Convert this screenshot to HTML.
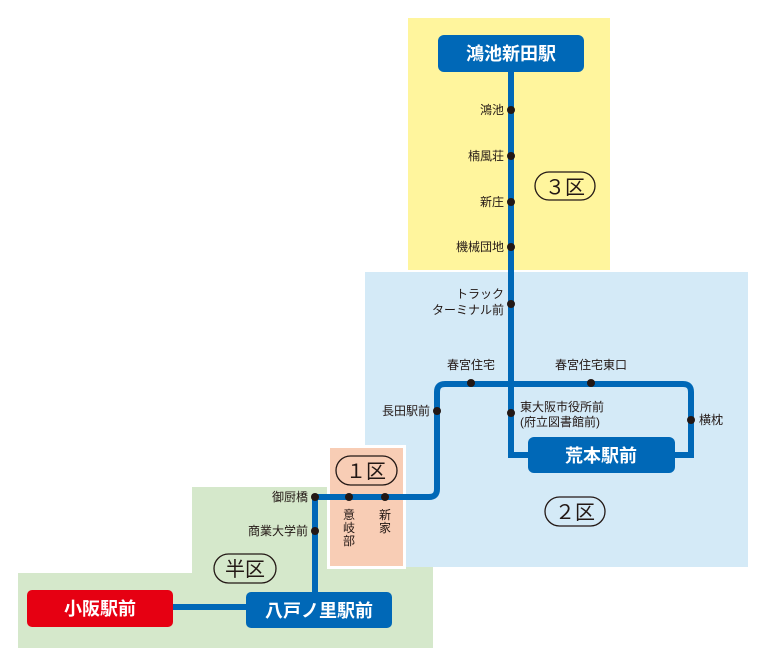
<!DOCTYPE html>
<html><head><meta charset="utf-8"><style>
html,body{margin:0;padding:0;background:#fff;}
svg{display:block;}
text{font-family:"Liberation Sans","Noto Sans CJK JP",sans-serif;fill:#231815;}
.s{font-size:12px;}
.b{font-size:18px;font-weight:bold;fill:#fff;}
.z{font-size:20px;}
</style></head><body>
<svg width="764" height="650" viewBox="0 0 764 650">
<rect x="408" y="18" width="202" height="252" fill="#fff59d"/>
<rect x="192" y="487" width="241" height="161" fill="#d5e8cb"/>
<rect x="18" y="573" width="415" height="75" fill="#d5e8cb"/>
<rect x="365" y="272" width="383" height="295" fill="#d4eaf7"/>
<rect x="327" y="445" width="79" height="124" fill="#fff"/>
<rect x="330" y="448" width="73" height="118" fill="#f8cdb5"/>
<g fill="none" stroke="#0068b7" stroke-width="6">
<path d="M511 70 V455 H530"/>
<path d="M673 455 H691 V392 Q691 384 683 384 H445 Q437 384 437 392 V489 Q437 497 429 497 H315 V600"/>
<path d="M173 607 H248"/>
</g>
<g fill="#231815">
<circle cx="511" cy="110" r="4"/><circle cx="511" cy="156" r="4"/><circle cx="511" cy="202" r="4"/><circle cx="511" cy="247" r="4"/><circle cx="511" cy="304" r="4"/><circle cx="511" cy="413" r="4"/><circle cx="471" cy="383" r="4"/><circle cx="591" cy="383" r="4"/><circle cx="691" cy="420" r="4"/><circle cx="437" cy="411" r="4"/><circle cx="385" cy="497" r="4"/><circle cx="349" cy="497" r="4"/><circle cx="315" cy="497" r="4"/><circle cx="315" cy="531" r="4"/>
</g>
<rect x="438" y="35" width="146" height="37" rx="6" fill="#0068b7"/>
<text class="b" x="511" y="60" text-anchor="middle">鴻池新田駅</text>
<rect x="528" y="437" width="147" height="36" rx="6" fill="#0068b7"/>
<text class="b" x="601" y="462" text-anchor="middle">荒本駅前</text>
<rect x="246" y="592" width="146" height="36" rx="5" fill="#0068b7"/>
<text class="b" x="319" y="617" text-anchor="middle">八戸ノ里駅前</text>
<rect x="27" y="590" width="146" height="37" rx="5" fill="#e60012"/>
<text class="b" x="100" y="615" text-anchor="middle">小阪駅前</text>
<g class="s">
<text x="504" y="114" text-anchor="end">鴻池</text>
<text x="504" y="160" text-anchor="end">楠風荘</text>
<text x="504" y="206" text-anchor="end">新庄</text>
<text x="504" y="251" text-anchor="end">機械団地</text>
<text x="504" y="298" text-anchor="end">トラック</text>
<text x="504" y="314" text-anchor="end">ターミナル前</text>
<text x="471" y="369" text-anchor="middle">春宮住宅</text>
<text x="591" y="369" text-anchor="middle">春宮住宅東口</text>
<text x="520" y="411">東大阪市役所前</text>
<text x="520" y="426">(府立図書館前)</text>
<text x="699" y="424">横枕</text>
<text x="430" y="415" text-anchor="end">長田駅前</text>
<text x="308" y="501" text-anchor="end">御厨橋</text>
<text x="308" y="535" text-anchor="end">商業大学前</text>
<text x="349" y="519" text-anchor="middle">意</text>
<text x="349" y="532" text-anchor="middle">岐</text>
<text x="349" y="545" text-anchor="middle">部</text>
<text x="385" y="519" text-anchor="middle">新</text>
<text x="385" y="532" text-anchor="middle">家</text>
</g>
<g fill="none" stroke="#231815" stroke-width="1.3">
<rect x="535" y="172" width="60" height="28" rx="14"/>
<rect x="545" y="497" width="60" height="29" rx="14.5"/>
<rect x="336" y="456" width="61" height="29" rx="14.5"/>
<rect x="214" y="554" width="62" height="29" rx="14.5"/>
</g>
<text class="z" x="565" y="194" text-anchor="middle">３区</text>
<text class="z" x="575" y="519" text-anchor="middle">２区</text>
<text class="z" x="366" y="478" text-anchor="middle">１区</text>
<text class="z" x="245" y="576" text-anchor="middle">半区</text>
</svg>
</body></html>
